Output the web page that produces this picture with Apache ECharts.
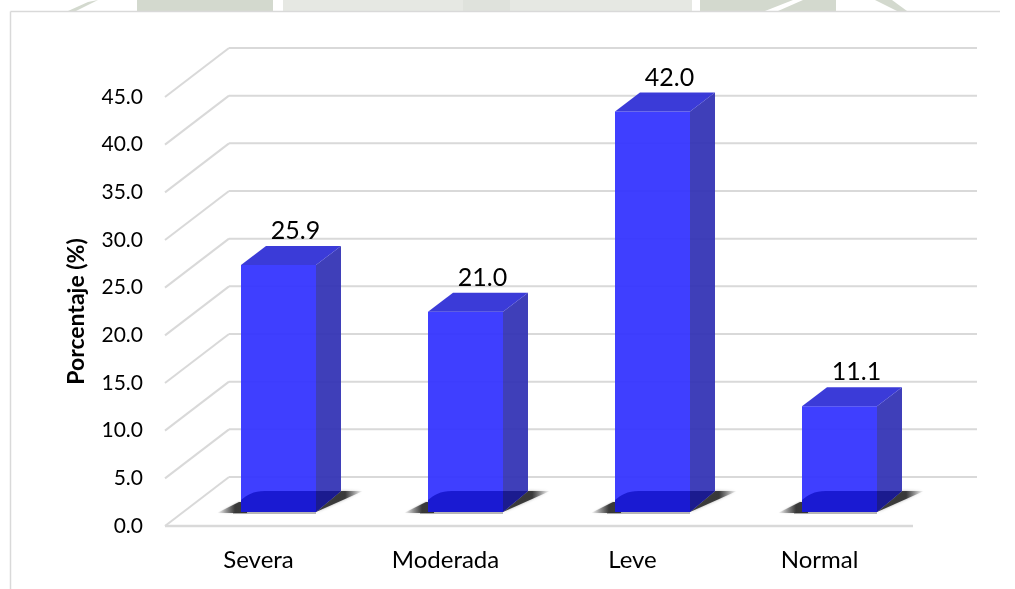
<!DOCTYPE html>
<html><head><meta charset="utf-8">
<style>html,body{margin:0;padding:0;background:#fff}#c{width:1015px;height:589px}</style>
<script src="https://cdn.jsdelivr.net/npm/echarts@6/dist/echarts.min.js"></script>
</head><body><div id="c"></div>
<script>
const categories = ['Severa', 'Moderada', 'Leve', 'Normal'];
const values = [25.9, 21.0, 42.0, 11.1];
const ticks = [0, 5, 10, 15, 20, 25, 30, 35, 40, 45];

const DEPTH_X = 64, DEPTH_Y = 49;      // wall depth in px
const SHIFT_X = 20, SHIFT_Y = 14;      // bar sits inside the floor
const BAR_DX = 25, BAR_DY = 19, FOOT = 21;
const BAR_W = 75;
const FONT = 'Lato, "Open Sans", sans-serif';

const chart = echarts.init(document.getElementById('c'), null, {renderer: 'canvas'});

function renderWall(params, api) {
  const p = api.coord([0, api.value(0)]);
  const r = params.coordSys;
  const x0 = r.x, x1 = r.x + r.width, y = p[1];
  const st = {stroke: '#d9d9d9', lineWidth: 2, fill: null};
  const children = [
    {type: 'line', shape: {x1: x0, y1: y, x2: x0 + DEPTH_X, y2: y - DEPTH_Y}, style: st},
    {type: 'line', shape: {x1: x0 + DEPTH_X, y1: y - DEPTH_Y, x2: x1 + DEPTH_X, y2: y - DEPTH_Y}, style: st}
  ];
  if (api.value(0) === 0) {
    children.push({type: 'line', shape: {x1: x0, y1: y, x2: x1, y2: y}, style: {stroke: '#d9d9d9', lineWidth: 2.5, fill: null}});
  }
  return {type: 'group', children};
}

function grad(x0, x1, stops) {
  return new echarts.graphic.LinearGradient(x0, 0, x1, 0, stops.map(s => ({offset: s[0], color: s[1]})));
}

function renderBar(params, api) {
  const c = api.coord([api.value(0), api.value(1)]);
  const b = api.coord([api.value(0), 0]);
  const l = c[0] - BAR_W / 2 + SHIFT_X, r = l + BAR_W;
  const bot = b[1] - SHIFT_Y, top = c[1] - SHIFT_Y;
  const dx = BAR_DX, dy = BAR_DY;
  const dark = 'rgba(40,40,40,0.88)', clear = 'rgba(90,90,90,0)';
  return {type: 'group', children: [
    // soft strip under the front edge
    {type: 'rect', shape: {x: l - 8, y: bot, width: BAR_W + 8, height: 2}, style: {fill: 'rgba(110,110,110,0.5)'}},
    // floor shadow, left of the bar
    {type: 'polygon', shape: {points: [[l - 24, bot + 1], [l - 2, bot - 10], [l + 6, bot - 10], [l + 6, bot + 1]]},
      style: {fill: grad(0, 1, [[0, clear], [0.6, dark], [1, dark]]), shadowBlur: 2, shadowColor: 'rgba(80,80,80,0.5)'}},
    // floor shadow, right of the bar
    {type: 'polygon', shape: {points: [[r, bot], [r + dx, bot - FOOT], [r + dx + 22, bot - FOOT]]},
      style: {fill: grad(0, 1, [[0, dark], [0.62, dark], [1, clear]]), shadowBlur: 3, shadowColor: 'rgba(80,80,80,0.5)'}},
    // front
    {type: 'rect', shape: {x: l, y: top, width: BAR_W, height: bot - top}, style: {fill: 'rgba(51,51,255,0.94)'}},
    // darker foot on front
    {type: 'path', shape: {pathData: 'M0 21L0 9C6 4 12 0 24 0L75 0L75 21Z', x: l, y: bot - FOOT, width: BAR_W, height: FOOT},
      style: {fill: '#1a1ad2'}},
    // side
    {type: 'polygon', shape: {points: [[r, top], [r + dx, top - dy], [r + dx, bot - FOOT], [r, bot]]}, style: {fill: 'rgba(48,48,180,0.93)'}},
    {type: 'polygon', shape: {points: [[r, bot], [r, bot - FOOT], [r + dx, bot - FOOT]]}, style: {fill: '#1b1b8f'}},
    // top
    {type: 'polygon', shape: {points: [[l, top], [l + dx, top - dy], [r + dx, top - dy], [r, top]]}, style: {fill: 'rgba(48,48,214,0.95)'}},
    // label
    {type: 'text', style: {text: api.value(1).toFixed(1), x: (l + r) / 2 + 17, y: top - 34, align: 'center', verticalAlign: 'middle',
      font: '25px ' + FONT, fill: '#000'}}
  ]};
}

const WM = '#d3d9ce', WL = '#e6e8e3';
chart.setOption({
  animation: false,
  backgroundColor: '#fff',
  grid: {left: 165, top: 97, width: 748, height: 429},
  xAxis: {type: 'category', data: categories, axisLine: {show: false}, axisTick: {show: false},
    axisLabel: {color: '#000', fontFamily: FONT, fontSize: 24, margin: 22}},
  yAxis: {type: 'value', min: 0, max: 45, interval: 5,
    name: 'Porcentaje (%)', nameLocation: 'middle', nameGap: 77,
    nameTextStyle: {color: '#000', fontWeight: 'bold', fontFamily: FONT, fontSize: 23},
    axisLine: {show: false}, axisTick: {show: false}, splitLine: {show: false},
    axisLabel: {color: '#000', fontFamily: FONT, fontSize: 21, margin: 22, formatter: v => v.toFixed(1)}},
  graphic: [
    // faded watermark showing above the chart frame
    {type: 'polygon', shape: {points: [[68, 11], [88, 2], [98, 0], [76, 11]]}, style: {fill: WM}},
    {type: 'rect', shape: {x: 137, y: 0, width: 136, height: 11}, style: {fill: WM}},
    {type: 'rect', shape: {x: 283, y: 0, width: 409, height: 11}, style: {fill: WL}},
    {type: 'rect', shape: {x: 463, y: 0, width: 47, height: 11}, style: {fill: '#dfe2dc'}},
    {type: 'polygon', shape: {points: [[700, 0], [793, 0], [765, 11], [700, 11]]}, style: {fill: WM}},
    {type: 'polygon', shape: {points: [[803, 0], [836, 0], [836, 11], [778, 11]]}, style: {fill: WM}},
    {type: 'polygon', shape: {points: [[875, 0], [892, 0], [907, 11], [897, 11]]}, style: {fill: WM}},
    // chart frame
    {type: 'rect', shape: {x: 10, y: 11, width: 1005, height: 578}, style: {fill: '#fff'}},
    {type: 'line', shape: {x1: 10.5, y1: 11.5, x2: 1000, y2: 11.5}, style: {stroke: '#d9d9d9', lineWidth: 1.5}},
    {type: 'line', shape: {x1: 10.5, y1: 11.5, x2: 10.5, y2: 589}, style: {stroke: '#d9d9d9', lineWidth: 1.5}}
  ],
  series: [
    {type: 'custom', name: 'wall', renderItem: renderWall, data: ticks.map(t => [t]), encode: {y: 0}, silent: true, z: 1},
    {type: 'custom', name: 'Porcentaje', renderItem: renderBar, data: values.map((v, i) => [i, v]), encode: {x: 0, y: 1}, z: 2}
  ]
});
</script></body></html>
